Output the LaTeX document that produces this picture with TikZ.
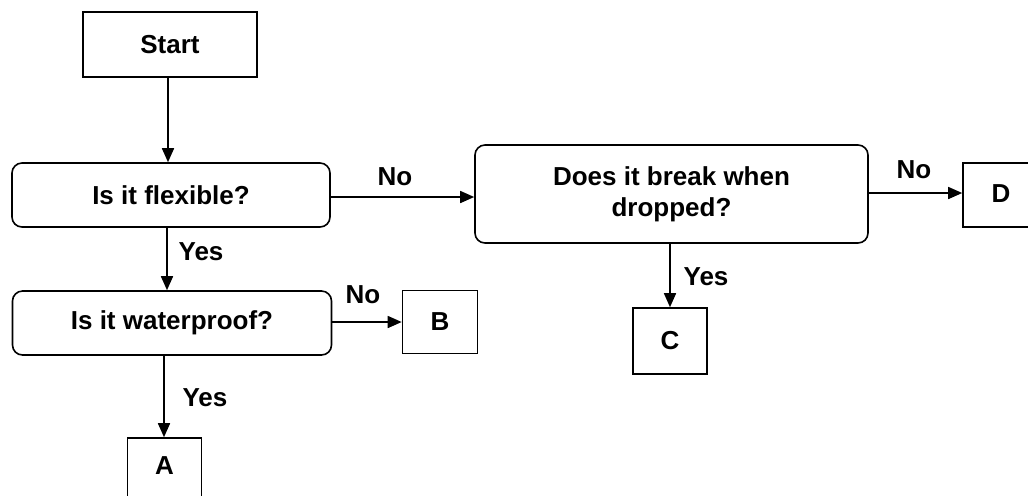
\documentclass[tikz,border=0pt]{standalone}
\usepackage{fontspec}
\setmainfont{Liberation Sans}
\usetikzlibrary{arrows.meta}
\begin{document}
\begin{tikzpicture}[x=0.5pt,y=-0.5pt,
  box/.style={draw, line width=0.8pt, inner sep=0pt, font=\fontsize{13}{15.5}\selectfont\bfseries, align=center},
  rbox/.style={box, rounded corners=5pt},
  arr/.style={line width=0.8pt, -{Triangle[length=7pt,width=6pt]}},
  lbl/.style={font=\fontsize{13}{15.5}\selectfont\bfseries, inner sep=0pt}]
\useasboundingbox (0,0) rectangle (1028,495);
\node[box, minimum width=87pt, minimum height=32.5pt] (start) at (170,44.5) {Start};
\node[rbox, minimum width=159pt, minimum height=32pt] (flex) at (171,195) {Is it flexible?};
\node[rbox, minimum width=159.5pt, minimum height=32pt] (water) at (172,323) {Is it waterproof?};
\node[box, minimum width=37pt, minimum height=34pt] (A) at (164.5,472) {};
\node[box, draw=none] (Atxt) at (164.5,466) {A};
\node[box, minimum width=37.5pt, minimum height=31.5pt] (B) at (440,322) {B};
\node[rbox, minimum width=196.5pt, minimum height=49pt] (brk) at (671.5,194) {Does it break when\\dropped?};
\node[box, minimum width=37pt, minimum height=33pt] (C) at (670,341) {C};
\node[box, minimum width=44pt, minimum height=32pt] (D) at (1007,195) {};
\node[box, draw=none] (Dtxt) at (1001,194) {D};
\draw[arr] (start.south -| 168,0) -- (flex.north -| 168,0);
\draw[arr] (flex.east |- 0,197) -- (brk.west |- 0,197);
\draw[arr] (brk.east |- 0,193) -- (D.west |- 0,193);
\draw[arr] (brk.south -| 670,0) -- (C.north -| 670,0);
\draw[arr] (flex.south -| 167,0) -- (water.north -| 167,0);
\draw[arr] (water.east |- 0,322) -- (B.west |- 0,322);
\draw[arr] (water.south -| 164,0) -- (A.north -| 164,0);
\node[lbl] (n1) at (395,177) {No};
\node[lbl] (n2) at (914,170) {No};
\node[lbl] (n3) at (363,295) {No};
\node[lbl] (y1) at (201,252) {Yes};
\node[lbl] (y2) at (205,398) {Yes};
\node[lbl] (y3) at (706,277) {Yes};
\end{tikzpicture}
\end{document}
